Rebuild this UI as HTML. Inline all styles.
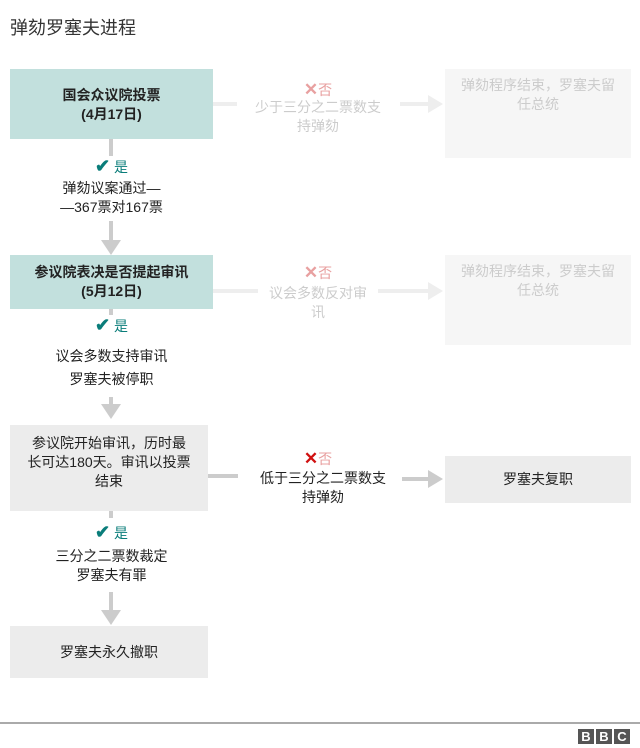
<!DOCTYPE html>
<html><head><meta charset="utf-8"><style>
*{margin:0;padding:0;box-sizing:border-box}
body{width:640px;height:748px;background:#fff;position:relative;overflow:hidden;font-family:"Liberation Sans","Noto Sans CJK SC",sans-serif;color:#222}
.a{position:absolute}
.box{position:absolute;display:flex;align-items:center;justify-content:center;text-align:center;font-size:14px;line-height:19px}
.t{position:absolute;text-align:center;font-size:14px;line-height:19px}
.vl{position:absolute;width:4px;background:#ccc}
.hl{position:absolute;height:4px}
.ah{position:absolute;width:0;height:0}
</style></head><body>
<div class="a" style="left:10px;top:14px;font-size:18px;color:#333">弹劾罗塞夫进程</div>

<!-- box1 -->
<div class="box" style="left:10px;top:69px;width:203px;height:70px;background:#c2e0dd;font-weight:bold;align-items:flex-start;padding-top:17px">国会众议院投票<br>(4月17日)</div>
<div class="vl" style="left:109px;top:139px;height:17px"></div>
<div class="t" style="left:10px;top:157px;width:203px;color:#0a7d7a"><span style="font-size:18px;font-weight:bold">✔</span> 是</div>
<div class="t" style="left:10px;top:179px;width:203px">弹劾议案通过—<br>—367票对167票</div>
<div class="vl" style="left:109px;top:221px;height:20px"></div>
<div class="ah" style="left:101px;top:240px;border-left:10px solid transparent;border-right:10px solid transparent;border-top:15px solid #ccc"></div>

<!-- row1 right -->
<div class="hl" style="left:213px;top:102px;width:24px;background:#eee"></div>
<div class="t" style="left:238px;top:80px;width:160px;color:#e8a0a0"><b style="font-size:17px">✕</b>否</div>
<div class="t" style="left:238px;top:98px;width:160px;color:#ccc">少于三分之二票数支<br>持弹劾</div>
<div class="hl" style="left:400px;top:102px;width:30px;background:#eee"></div>
<div class="ah" style="left:428px;top:95px;border-top:9px solid transparent;border-bottom:9px solid transparent;border-left:15px solid #eee"></div>
<div class="box" style="left:445px;top:69px;width:186px;height:89px;background:#f6f6f6;color:#ccc;align-items:flex-start;padding-top:7px">弹劾程序结束，罗塞夫留<br>任总统</div>

<!-- box2 -->
<div class="box" style="left:10px;top:255px;width:203px;height:54px;background:#c2e0dd;font-weight:bold">参议院表决是否提起审讯<br>(5月12日)</div>
<div class="vl" style="left:109px;top:309px;height:6px"></div>
<div class="t" style="left:10px;top:316px;width:203px;color:#0a7d7a"><span style="font-size:18px;font-weight:bold">✔</span> 是</div>
<div class="t" style="left:10px;top:345px;width:203px;line-height:23px">议会多数支持审讯<br>罗塞夫被停职</div>
<div class="vl" style="left:109px;top:397px;height:8px"></div>
<div class="ah" style="left:101px;top:404px;border-left:10px solid transparent;border-right:10px solid transparent;border-top:15px solid #ccc"></div>

<div class="hl" style="left:213px;top:289px;width:45px;background:#eee"></div>
<div class="t" style="left:238px;top:263px;width:160px;color:#e8a0a0"><b style="font-size:17px">✕</b>否</div>
<div class="t" style="left:258px;top:284px;width:120px;color:#ccc">议会多数反对审<br>讯</div>
<div class="hl" style="left:378px;top:289px;width:52px;background:#eee"></div>
<div class="ah" style="left:428px;top:282px;border-top:9px solid transparent;border-bottom:9px solid transparent;border-left:15px solid #eee"></div>
<div class="box" style="left:445px;top:255px;width:186px;height:90px;background:#f6f6f6;color:#ccc;align-items:flex-start;padding-top:7px">弹劾程序结束，罗塞夫留<br>任总统</div>

<!-- box3 -->
<div class="box" style="left:10px;top:425px;width:198px;height:86px;background:#ececec;align-items:flex-start;padding-top:9px">参议院开始审讯，历时最<br>长可达180天。审讯以投票<br>结束</div>
<div class="vl" style="left:109px;top:511px;height:7px"></div>
<div class="t" style="left:10px;top:523px;width:203px;color:#0a7d7a"><span style="font-size:18px;font-weight:bold">✔</span> 是</div>
<div class="t" style="left:10px;top:547px;width:203px">三分之二票数裁定<br>罗塞夫有罪</div>
<div class="vl" style="left:109px;top:592px;height:20px"></div>
<div class="ah" style="left:101px;top:610px;border-left:10px solid transparent;border-right:10px solid transparent;border-top:15px solid #ccc"></div>
<div class="box" style="left:10px;top:626px;width:198px;height:52px;background:#ececec">罗塞夫永久撤职</div>

<div class="hl" style="left:208px;top:474px;width:30px;background:#ccc"></div>
<div class="t" style="left:238px;top:449px;width:160px;color:#e8a0a0"><b style="font-size:17px;color:#d01010">✕</b>否</div>
<div class="t" style="left:243px;top:469px;width:160px">低于三分之二票数支<br>持弹劾</div>
<div class="hl" style="left:402px;top:477px;width:28px;background:#ccc"></div>
<div class="ah" style="left:428px;top:470px;border-top:9px solid transparent;border-bottom:9px solid transparent;border-left:15px solid #ccc"></div>
<div class="box" style="left:445px;top:456px;width:186px;height:47px;background:#ececec">罗塞夫复职</div>

<div class="a" style="left:0;top:722px;width:640px;height:2px;background:#aaa"></div>
<div class="a" style="left:578px;top:729px;display:flex;gap:2px">
<div style="width:16px;height:15px;background:#555;color:#fff;font-weight:bold;font-size:13px;line-height:15px;text-align:center">B</div>
<div style="width:16px;height:15px;background:#555;color:#fff;font-weight:bold;font-size:13px;line-height:15px;text-align:center">B</div>
<div style="width:16px;height:15px;background:#555;color:#fff;font-weight:bold;font-size:13px;line-height:15px;text-align:center">C</div>
</div>
</body></html>
